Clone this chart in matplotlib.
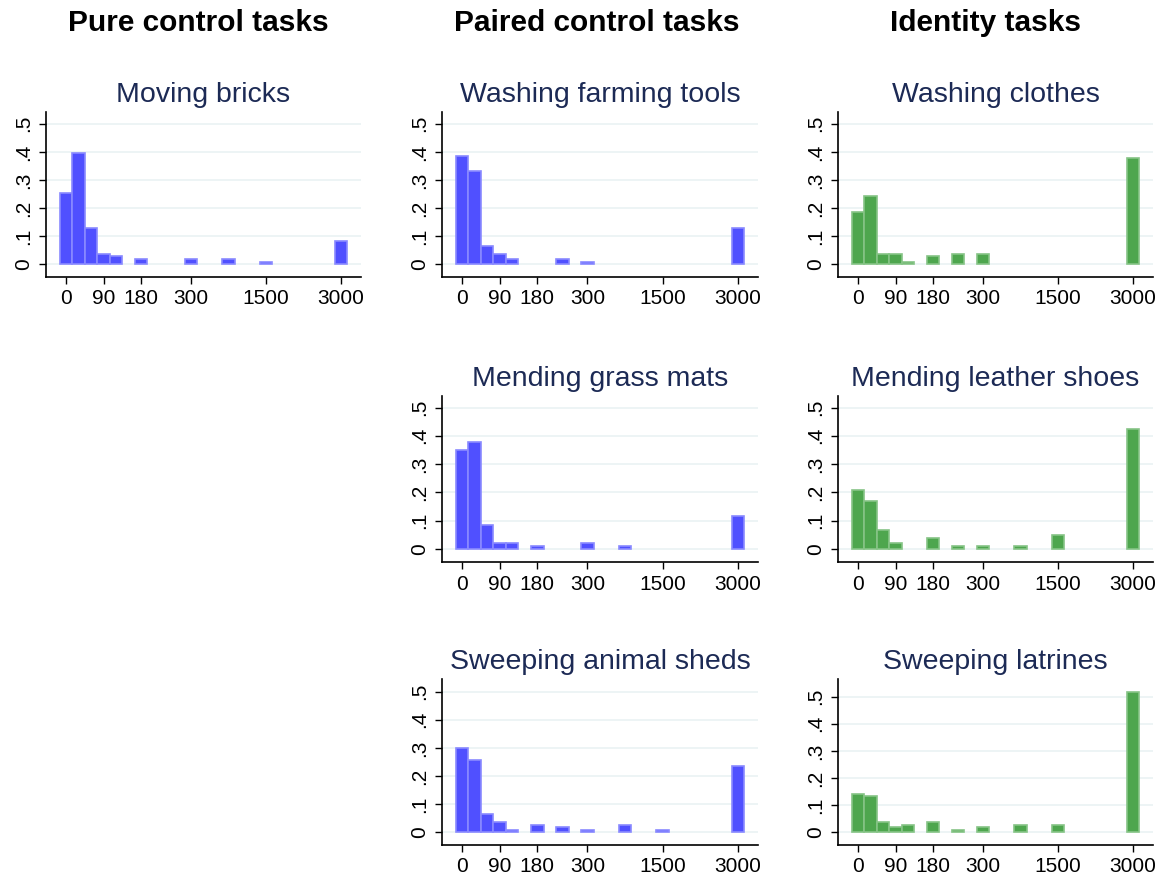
import matplotlib
matplotlib.use("Agg")
import matplotlib.pyplot as plt
import numpy as np

plt.rcParams['font.family'] = ['Liberation Sans', 'DejaVu Sans']

# bin positions (index space) and tick labels
tick_pos = [0, 3, 6, 10, 16, 22]
tick_labels = ["0", "90", "180", "300", "1500", "3000"]

# values: bin index -> fraction, per task
moving_bricks_idx = [0, 1, 2, 3, 4, 6, 10, 13, 16, 22]
moving_bricks_val = [0.253, 0.397, 0.131, 0.037, 0.030, 0.018, 0.018, 0.018, 0.008, 0.084]

farming_tools_idx = [0, 1, 2, 3, 4, 8, 10, 22]
farming_tools_val = [0.387, 0.331, 0.065, 0.037, 0.018, 0.018, 0.008, 0.131]

washing_clothes_idx = [0, 1, 2, 3, 4, 6, 8, 10, 22]
washing_clothes_val = [0.187, 0.244, 0.036, 0.036, 0.007, 0.028, 0.036, 0.036, 0.377]

grass_mats_idx = [0, 1, 2, 3, 4, 6, 10, 13, 22]
grass_mats_val = [0.348, 0.377, 0.085, 0.019, 0.019, 0.009, 0.019, 0.009, 0.115]

leather_shoes_idx = [0, 1, 2, 3, 6, 8, 10, 13, 16, 22]
leather_shoes_val = [0.208, 0.170, 0.066, 0.019, 0.038, 0.009, 0.009, 0.009, 0.047, 0.423]

animal_sheds_idx = [0, 1, 2, 3, 4, 6, 8, 10, 13, 16, 22]
animal_sheds_val = [0.301, 0.256, 0.066, 0.037, 0.009, 0.027, 0.020, 0.009, 0.027, 0.009, 0.236]

latrines_idx = [0, 1, 2, 3, 4, 6, 8, 10, 13, 16, 22]
latrines_val = [0.140, 0.133, 0.037, 0.020, 0.028, 0.037, 0.010, 0.021, 0.028, 0.028, 0.517]

headers = ["Pure control tasks", "Paired control tasks", "Identity tasks"]

BLUE = "#5050ff"
BLUE_E = "#8a8aff"
GREEN = "#4ea64e"
GREEN_E = "#86c486"
TITLE_C = "#1c2a55"
GRID_C = "#eaf2f3"

W, H = 1162, 884
fig = plt.figure(figsize=(W / 100, H / 100), dpi=100)

cols = [(46, 361), (442, 758), (838, 1153)]
rows = [(112, 277), (396, 562), (679, 845)]

panels = [
    (0, 0, "Moving bricks", moving_bricks_idx, moving_bricks_val, BLUE, BLUE_E, (-0.045, 0.542)),
    (1, 0, "Washing farming tools", farming_tools_idx, farming_tools_val, BLUE, BLUE_E, (-0.045, 0.542)),
    (2, 0, "Washing clothes", washing_clothes_idx, washing_clothes_val, GREEN, GREEN_E, (-0.045, 0.542)),
    (1, 1, "Mending grass mats", grass_mats_idx, grass_mats_val, BLUE, BLUE_E, (-0.047, 0.541)),
    (2, 1, "Mending leather shoes", leather_shoes_idx, leather_shoes_val, GREEN, GREEN_E, (-0.047, 0.541)),
    (1, 2, "Sweeping animal sheds", animal_sheds_idx, animal_sheds_val, BLUE, BLUE_E, (-0.045, 0.545)),
    (2, 2, "Sweeping latrines", latrines_idx, latrines_val, GREEN, GREEN_E, (-0.047, 0.565)),
]

for c, r, title, idx, vals, fc, ec, yl in panels:
    x0, x1 = cols[c]
    t, b = rows[r]
    ax = fig.add_axes([x0 / W, 1 - b / H, (x1 - x0) / W, (b - t) / H])
    for yv in [0, 0.1, 0.2, 0.3, 0.4, 0.5]:
        ax.axhline(yv, color=GRID_C, lw=1.2, zorder=0)
    ax.bar(idx, vals, width=1.0, color=fc, edgecolor=ec, linewidth=1.2, zorder=2)
    ax.set_xlim(-1.6, 23.6)
    ax.set_ylim(*yl)
    ax.set_xticks(tick_pos)
    ax.set_xticklabels(tick_labels, fontsize=15)
    ax.set_yticks([0, 0.1, 0.2, 0.3, 0.4, 0.5])
    ax.set_yticklabels(["0", ".1", ".2", ".3", ".4", ".5"], fontsize=15,
                       rotation=90, va='center')
    ax.tick_params(axis='both', length=5, width=1, color='black', pad=4)
    for s in ['top', 'right']:
        ax.spines[s].set_visible(False)
    for s in ['left', 'bottom']:
        ax.spines[s].set_linewidth(1.2)
    ax.set_title(title, fontsize=20.5, color=TITLE_C, pad=7)

header_x = [198, 597, 986]
for hx, h in zip(header_x, headers):
    fig.text(hx / W, 1 - 23 / H, h, fontsize=21.5, fontweight='bold',
             ha='center', va='center', color='black')

fig.savefig("out.png", dpi=100, facecolor='white')
